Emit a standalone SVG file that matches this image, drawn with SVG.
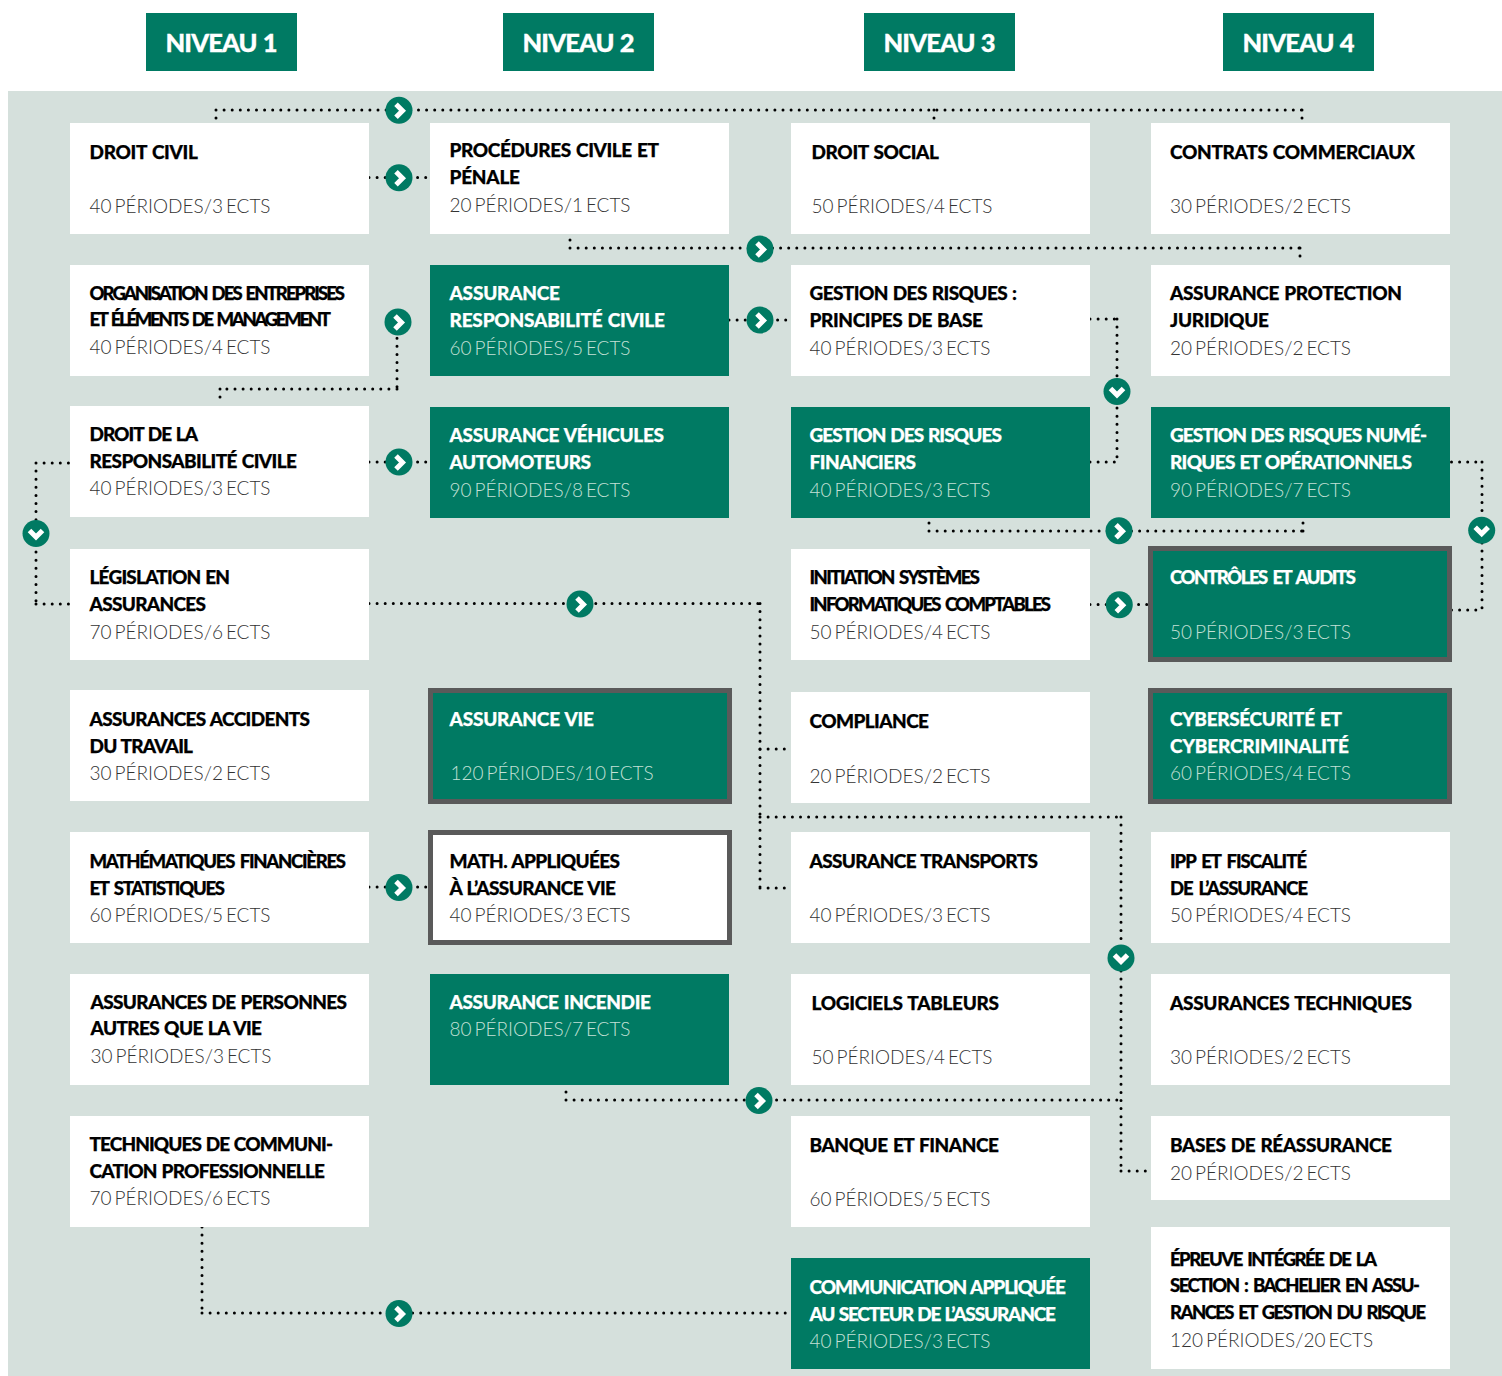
<svg xmlns="http://www.w3.org/2000/svg" width="1502" height="1376" viewBox="0 0 1502 1376">
<style>
text{font-family:Lato,"Open Sans","Liberation Sans",sans-serif}
.w{fill:#fff}.g{fill:#007a63}.bw{fill:#fff;stroke:#5a5a5a;stroke-width:5}.bg{fill:#007a63;stroke:#5a5a5a;stroke-width:5}
.t,.n{font-size:19px;font-weight:900;word-spacing:1px;stroke-width:.25px}
.t{fill:#000;stroke:#000}
.n{fill:#fff;stroke:#fff}
.s{font-size:18.5px;word-spacing:2.5px}
.p,.q{font-size:19px;font-weight:300;word-spacing:-2.2px;transform:translateY(.6px)}
.p{fill:#333}
.q{fill:#c3e0d6}
.h{font-size:25.500px;font-weight:900;fill:#fff;stroke:#fff;stroke-width:.3px;word-spacing:1px}
.c path{fill:none;stroke:#000;stroke-width:3;stroke-linecap:round;stroke-dasharray:0 8.1}
</style>
<defs>
<g id="r"><circle r="13.5" fill="#007a63"/><path d="M-3-6 3.500 .5-3 7" fill="none" stroke="#fff" stroke-width="5"/></g>
<g id="d"><circle r="13.500" fill="#007a63"/><path d="M-6.500-3 0 3.500 6.500-3" fill="none" stroke="#fff" stroke-width="5"/></g>
</defs>
<rect x="8" y="91" width="1494" height="1285" fill="#d5e0dc"/>
<g id="headers">
<g id="h1"><rect x="146" y="13" width="151" height="58" class="g"/><text x="165.500" y="52" class="h" textLength="112" lengthAdjust="spacing">NIVEAU 1</text></g>
<g id="h2"><rect x="503" y="13" width="151" height="58" class="g"/><text x="522.500" y="52" class="h" textLength="112" lengthAdjust="spacing">NIVEAU 2</text></g>
<g id="h3"><rect x="864" y="13" width="151" height="58" class="g"/><text x="883.500" y="52" class="h" textLength="112" lengthAdjust="spacing">NIVEAU 3</text></g>
<g id="h4"><rect x="1223" y="13" width="151" height="58" class="g"/><text x="1242.500" y="52" class="h" textLength="112" lengthAdjust="spacing">NIVEAU 4</text></g>
</g>
<g id="connectors" class="c">
<path d="M216 110V122M216 110H1302M1302 110V122"/>
<path d="M934 110V122"/>
<path d="M369 177.500H430"/>
<path d="M570 248V235M570 248H1300M1300 248V264"/>
<path d="M397 322V389M397 389H220M220 389V405"/>
<path d="M729 320H791"/>
<path d="M1090 319H1117M1117 319V462M1090 462H1117"/>
<path d="M369 462H430"/>
<path d="M36 463H70M36 463V604M36 604H70"/>
<path d="M929 531V518M929 531H1303M1303 531V518"/>
<path d="M1451.500 462H1482M1482 462V610M1451.500 610H1482"/>
<path d="M1090 604.500H1151"/>
<path d="M369 603.500H760M760 603.500V888M760 888H791"/>
<path d="M760 749H791"/>
<path d="M760 817H1121M1121 817V1171M1121 1171H1151"/>
<path d="M369 887H430"/>
<path d="M566 1100V1085M566 1100H1121"/>
<path d="M202 1227V1313M202 1313H791"/>
</g>
<g id="markers">
<use href="#r" x="399" y="110.300"/><use href="#r" x="399" y="177.700"/><use href="#r" x="760" y="249"/><use href="#r" x="398" y="322"/><use href="#r" x="760" y="320"/><use href="#d" x="1117" y="391.500"/><use href="#r" x="399" y="462"/><use href="#d" x="36" y="533.500"/><use href="#r" x="1119" y="530.700"/><use href="#d" x="1481.700" y="530.300"/><use href="#r" x="580" y="604"/><use href="#r" x="1119.300" y="604.700"/><use href="#r" x="399" y="887.500"/><use href="#d" x="1121" y="958"/><use href="#r" x="759" y="1100.500"/><use href="#r" x="399" y="1313.500"/>
</g>
<g id="n1"><rect x="70" y="123" width="299" height="111" class="w"/><text x="89.500" y="159" class="t" textLength="108.500">DROIT CIVIL</text><text x="89.500" y="212" class="p">40 PÉRIODES/3 ECTS</text></g>
<g id="n2"><rect x="430" y="123" width="299" height="111" class="w"/><text x="449.500" y="157" class="t" textLength="209.500">PROCÉDURES CIVILE ET</text><text x="449.500" y="184" class="t" textLength="70.500">PÉNALE</text><text x="449.500" y="211" class="p">20 PÉRIODES/1 ECTS</text></g>
<g id="n3"><rect x="791" y="123" width="299" height="111" class="w"/><text x="811.500" y="159" class="t" textLength="127.500">DROIT SOCIAL</text><text x="811.500" y="212" class="p">50 PÉRIODES/4 ECTS</text></g>
<g id="n4"><rect x="1151" y="123" width="299" height="111" class="w"/><text x="1170" y="159" class="t" textLength="245">CONTRATS COMMERCIAUX</text><text x="1170" y="212" class="p">30 PÉRIODES/2 ECTS</text></g>
<g id="n5"><rect x="70" y="265" width="299" height="111" class="w"/><text x="89.500" y="300" class="t s" textLength="255.500">ORGANISATION DES ENTREPRISES</text><text x="89.500" y="326" class="t s" textLength="241.500">ET ÉLÉMENTS DE MANAGEMENT</text><text x="89.500" y="353" class="p">40 PÉRIODES/4 ECTS</text></g>
<g id="n6"><rect x="430" y="265" width="299" height="111" class="g"/><text x="449.500" y="300" class="n" textLength="110.500">ASSURANCE</text><text x="449.500" y="327" class="n" textLength="215.500">RESPONSABILITÉ CIVILE</text><text x="449.500" y="354" class="q">60 PÉRIODES/5 ECTS</text></g>
<g id="n7"><rect x="791" y="265" width="299" height="111" class="w"/><text x="809.500" y="300" class="t" textLength="207.500">GESTION DES RISQUES :</text><text x="809.500" y="327" class="t" textLength="173.500">PRINCIPES DE BASE</text><text x="809.500" y="354" class="p">40 PÉRIODES/3 ECTS</text></g>
<g id="n8"><rect x="1151" y="265" width="299" height="111" class="w"/><text x="1170" y="300" class="t" textLength="232">ASSURANCE PROTECTION</text><text x="1170" y="327" class="t" textLength="99">JURIDIQUE</text><text x="1170" y="354" class="p">20 PÉRIODES/2 ECTS</text></g>
<g id="n9"><rect x="70" y="406" width="299" height="111" class="w"/><text x="89.500" y="441" class="t" textLength="108.500">DROIT DE LA</text><text x="89.500" y="468" class="t" textLength="207.500">RESPONSABILITÉ CIVILE</text><text x="89.500" y="494" class="p">40 PÉRIODES/3 ECTS</text></g>
<g id="n10"><rect x="430" y="407" width="299" height="111" class="g"/><text x="449.500" y="442" class="n" textLength="214.500">ASSURANCE VÉHICULES</text><text x="449.500" y="469" class="n" textLength="141.500">AUTOMOTEURS</text><text x="449.500" y="496" class="q">90 PÉRIODES/8 ECTS</text></g>
<g id="n11"><rect x="791" y="407" width="299" height="111" class="g"/><text x="809.500" y="442" class="n" textLength="192.500">GESTION DES RISQUES</text><text x="809.500" y="469" class="n" textLength="106.500">FINANCIERS</text><text x="809.500" y="496" class="q">40 PÉRIODES/3 ECTS</text></g>
<g id="n12"><rect x="1151" y="407" width="299" height="111" class="g"/><text x="1170" y="442" class="n" textLength="257">GESTION DES RISQUES NUMÉ-</text><text x="1170" y="469" class="n" textLength="242">RIQUES ET OPÉRATIONNELS</text><text x="1170" y="496" class="q">90 PÉRIODES/7 ECTS</text></g>
<g id="n13"><rect x="70" y="549" width="299" height="111" class="w"/><text x="89.500" y="584" class="t" textLength="140.500">LÉGISLATION EN</text><text x="89.500" y="611" class="t" textLength="116.500">ASSURANCES</text><text x="89.500" y="638" class="p">70 PÉRIODES/6 ECTS</text></g>
<g id="n14"><rect x="791" y="549" width="299" height="111" class="w"/><text x="809.500" y="584" class="t s" textLength="170.500">INITIATION SYSTÈMES</text><text x="809.500" y="611" class="t s" textLength="241.500">INFORMATIQUES COMPTABLES</text><text x="809.500" y="638" class="p">50 PÉRIODES/4 ECTS</text></g>
<g id="n15"><rect x="1150.500" y="548.500" width="299" height="111" class="bg"/><text x="1170" y="584" class="n s" textLength="186">CONTRÔLES ET AUDITS</text><text x="1170" y="638" class="q">50 PÉRIODES/3 ECTS</text></g>
<g id="n16"><rect x="70" y="690" width="299" height="111" class="w"/><text x="89.500" y="726" class="t" textLength="220.500">ASSURANCES ACCIDENTS</text><text x="89.500" y="753" class="t" textLength="103.500">DU TRAVAIL</text><text x="89.500" y="779" class="p">30 PÉRIODES/2 ECTS</text></g>
<g id="n17"><rect x="430.500" y="690.500" width="299" height="111" class="bg"/><text x="449.500" y="726" class="n" textLength="144.500">ASSURANCE VIE</text><text x="450.500" y="779" class="q">120 PÉRIODES/10 ECTS</text></g>
<g id="n18"><rect x="791" y="692" width="299" height="111" class="w"/><text x="809.500" y="728" class="t" textLength="119.500">COMPLIANCE</text><text x="809.500" y="782" class="p">20 PÉRIODES/2 ECTS</text></g>
<g id="n19"><rect x="1150.500" y="690.500" width="299" height="111" class="bg"/><text x="1170" y="726" class="n" textLength="172">CYBERSÉCURITÉ ET</text><text x="1170" y="753" class="n" textLength="179">CYBERCRIMINALITÉ</text><text x="1170" y="779" class="q">60 PÉRIODES/4 ECTS</text></g>
<g id="n20"><rect x="70" y="832" width="299" height="111" class="w"/><text x="89.500" y="868" class="t s" textLength="256.500">MATHÉMATIQUES FINANCIÈRES</text><text x="89.500" y="895" class="t s" textLength="135.500">ET STATISTIQUES</text><text x="89.500" y="921" class="p">60 PÉRIODES/5 ECTS</text></g>
<g id="n21"><rect x="430.500" y="832.500" width="299" height="110" class="bw"/><text x="449.500" y="868" class="t" textLength="170.500">MATH. APPLIQUÉES</text><text x="449.500" y="895" class="t" textLength="166.500">À L’ASSURANCE VIE</text><text x="449.500" y="921" class="p">40 PÉRIODES/3 ECTS</text></g>
<g id="n22"><rect x="791" y="832" width="299" height="111" class="w"/><text x="809.500" y="868" class="t" textLength="228.500">ASSURANCE TRANSPORTS</text><text x="809.500" y="921" class="p">40 PÉRIODES/3 ECTS</text></g>
<g id="n23"><rect x="1151" y="832" width="299" height="111" class="w"/><text x="1170" y="868" class="t s" textLength="137">IPP ET FISCALITÉ</text><text x="1170" y="895" class="t s" textLength="138">DE L’ASSURANCE</text><text x="1170" y="921" class="p">50 PÉRIODES/4 ECTS</text></g>
<g id="n24"><rect x="70" y="974" width="299" height="111" class="w"/><text x="90.500" y="1009" class="t" textLength="256.500">ASSURANCES DE PERSONNES</text><text x="90.500" y="1035" class="t" textLength="171.500">AUTRES QUE LA VIE</text><text x="90.500" y="1062" class="p">30 PÉRIODES/3 ECTS</text></g>
<g id="n25"><rect x="430" y="974" width="299" height="111" class="g"/><text x="449.500" y="1009" class="n" textLength="201.500">ASSURANCE INCENDIE</text><text x="449.500" y="1035" class="q">80 PÉRIODES/7 ECTS</text></g>
<g id="n26"><rect x="791" y="974" width="299" height="111" class="w"/><text x="811.500" y="1010" class="t" textLength="187.500">LOGICIELS TABLEURS</text><text x="811.500" y="1063" class="p">50 PÉRIODES/4 ECTS</text></g>
<g id="n27"><rect x="1151" y="974" width="299" height="111" class="w"/><text x="1170" y="1010" class="t" textLength="242">ASSURANCES TECHNIQUES</text><text x="1170" y="1063" class="p">30 PÉRIODES/2 ECTS</text></g>
<g id="n28"><rect x="70" y="1116" width="299" height="111" class="w"/><text x="89.500" y="1151" class="t" textLength="243.500">TECHNIQUES DE COMMUNI-</text><text x="89.500" y="1178" class="t" textLength="235.500">CATION PROFESSIONNELLE</text><text x="89.500" y="1204" class="p">70 PÉRIODES/6 ECTS</text></g>
<g id="n29"><rect x="791" y="1116" width="299" height="111" class="w"/><text x="809.500" y="1152" class="t" textLength="189.500">BANQUE ET FINANCE</text><text x="809.500" y="1205" class="p">60 PÉRIODES/5 ECTS</text></g>
<g id="n30"><rect x="1151" y="1116" width="299" height="84" class="w"/><text x="1170" y="1152" class="t" textLength="222">BASES DE RÉASSURANCE</text><text x="1170" y="1179" class="p">20 PÉRIODES/2 ECTS</text></g>
<g id="n31"><rect x="791" y="1258" width="299" height="111" class="g"/><text x="809.500" y="1294" class="n" textLength="256.500">COMMUNICATION APPLIQUÉE</text><text x="809.500" y="1321" class="n" textLength="246.500">AU SECTEUR DE L’ASSURANCE</text><text x="809.500" y="1347" class="q">40 PÉRIODES/3 ECTS</text></g>
<g id="n32"><rect x="1151" y="1227" width="299" height="142" class="w"/><text x="1170" y="1266" class="t s" textLength="207">ÉPREUVE INTÉGRÉE DE LA</text><text x="1170" y="1292" class="t s" textLength="250">SECTION : BACHELIER EN ASSU-</text><text x="1170" y="1319" class="t s" textLength="256">RANCES ET GESTION DU RISQUE</text><text x="1170" y="1346" class="p">120 PÉRIODES/20 ECTS</text></g>
</svg>
